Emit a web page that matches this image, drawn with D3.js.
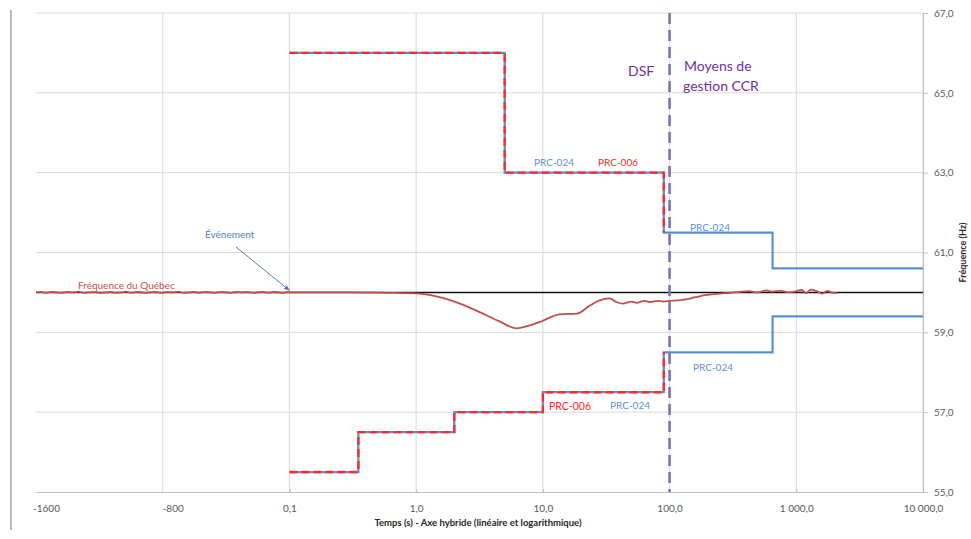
<!DOCTYPE html>
<html>
<head>
<meta charset="utf-8">
<script src="https://cdn.jsdelivr.net/npm/d3@7"></script>
<style>
    body { margin: 0; background: #fff; }
    svg { font-family: Lato, "Open Sans", sans-serif; }
</style>
</head>
<body>
<div id="chart"></div>
<script>
// x ticks: two linear ticks (negative seconds) then a log part
var linTicks = [-1600, -800];
var linTickLabels = ["-1600", "-800"];
var logTicks = [0.1, 1, 10, 100, 1000, 10000];
var logTickLabels = ["0,1", "1,0", "10,0", "100,0", "1\u00a0000,0", "10\u00a0000,0"];
var freqTicks = [55, 57, 59, 61, 63, 65, 67];
var freqTickLabels = ["55,0", "57,0", "59,0", "61,0", "63,0", "65,0", "67,0"];

// Fréquence du Québec (time in s, frequency in Hz)
var quebecTime = [-1600, -1570, -1540, -1500, -1470, -1440, -1400, -1370, -1330, -1300,
    -1270, -1230, -1200, -1160, -1130, -1100, -1060, -1030, -1000, -960,
    -930, -900, -860, -830, -800, -770, -740, -700, -670, -640,
    -600, -570, -530, -500, -470, -430, -400, -370, -330, -300,
    -270, -230, -200, -170, -130, -100, -70, -40, -10, 0,
    0.15, 0.3, 0.6, 1.07, 1.3, 1.75, 2.3, 3.2, 4.5, 6.2,
    8, 10, 13.5, 18.6, 23.5, 28, 33.6, 38, 42.5, 50,
    55, 63, 70, 80, 90, 100, 115, 130, 160, 190,
    250, 300, 350, 420, 500, 580, 650, 750, 880, 1000,
    1100, 1200, 1300, 1450, 1600, 1750, 1900, 2090];
var quebecFreq = [60.00, 60.01, 59.99, 60.01, 60.00, 59.99, 60.01, 60.00, 60.02, 59.99,
    60.00, 60.01, 59.99, 60.00, 60.01, 59.99, 60.00, 60.02, 59.99, 60.01,
    60.00, 59.99, 60.01, 60.00, 59.99, 60.01, 60.00, 60.02, 59.99, 60.00,
    60.01, 59.99, 60.01, 60.00, 59.99, 60.01, 60.00, 59.99, 60.01, 60.00,
    60.01, 59.99, 60.00, 60.01, 59.99, 60.01, 60.00, 59.99, 60.01, 60.00,
    60.00, 60.00, 59.99, 59.97, 59.93, 59.83, 59.70, 59.50, 59.28, 59.10,
    59.18, 59.29, 59.45, 59.47, 59.67, 59.80, 59.85, 59.76, 59.72, 59.77,
    59.74, 59.79, 59.76, 59.79, 59.77, 59.79, 59.80, 59.82, 59.88, 59.93,
    59.97, 59.99, 60.01, 60.03, 60.00, 60.05, 60.02, 60.04, 60.00, 60.03,
    60.06, 59.98, 60.07, 60.03, 59.97, 60.04, 60.00, 59.98];

// step limits
var prc006UpperTime = [0.1, 5, 90];
var prc006UpperFreq = [66, 63, 61.5];
var prc024UpperTime = [0.1, 5, 90, 650, 10000];
var prc024UpperFreq = [66, 63, 61.5, 60.6, 60.6];
var prc006LowerTime = [0.1, 0.35, 2, 10, 90];
var prc006LowerFreq = [55.5, 56.5, 57, 57.5, 58.5];
var prc024LowerTime = [0.1, 0.35, 2, 10, 90, 650, 10000];
var prc024LowerFreq = [55.5, 56.5, 57, 57.5, 58.5, 59.4, 59.4];

var nominalTime = [-1600, 10000];
var nominalFreq = [60, 60];
var limitTime = 100;

var margin = { top: 13, right: 48, bottom: 47, left: 36 },
    width = 971,
    height = 539;
var x0 = margin.left, x1 = width - margin.right;
var unit = (x1 - x0) / 7;

var svg = d3.select("#chart").append("svg")
    .attr("width", width)
    .attr("height", height);

var xLin = d3.scaleLinear().domain([-1600, 0]).range([x0, x0 + 2 * unit]);
var xLog = d3.scaleLog().domain([0.1, 10000]).range([x0 + 2 * unit, x1]);
var x = (t) => (t < 0.1 ? xLin(t) : xLog(t));
var y = d3.scaleLinear().domain([55, 67]).range([height - margin.bottom, margin.top]);

var zip = (ts, fs) => ts.map((t, i) => [t, fs[i]]);

// left frame line
svg.append("line")
    .attr("x1", 11).attr("x2", 11)
    .attr("y1", 10).attr("y2", 530)
    .attr("stroke", "#8c8c8c").attr("stroke-width", 1.2);

// grid
var grid = svg.append("g");
grid.selectAll(".hgrid")
    .data(freqTicks.slice(1))
    .enter().append("line")
    .attr("x1", x0).attr("x2", x1)
    .attr("y1", (d) => y(d)).attr("y2", (d) => y(d))
    .attr("stroke", "#d9d9d9");
grid.selectAll(".vgrid")
    .data([xLin(-800)].concat(logTicks.map((d) => xLog(d))))
    .enter().append("line")
    .attr("x1", (d) => d).attr("x2", (d) => d)
    .attr("y1", y(67)).attr("y2", y(55))
    .attr("stroke", "#d9d9d9");

// axes
function styleAxis(g) {
    g.select(".domain").attr("stroke", "#bfbfbf");
    g.selectAll(".tick line").attr("stroke", "#bfbfbf");
    g.selectAll(".tick text")
        .attr("fill", "#595959")
        .style("font-family", "Lato, 'Open Sans', sans-serif")
        .style("font-size", "10px");
}
svg.append("g")
    .attr("transform", "translate(0," + y(55) + ")")
    .call(d3.axisBottom(xLin).tickValues(linTicks).tickSizeOuter(0).tickSize(0).tickPadding(13)
        .tickFormat((d, i) => linTickLabels[i]))
    .call(styleAxis)
    .call((g) => g.selectAll(".tick text").attr("dx", 10));
svg.append("g")
    .attr("transform", "translate(0," + y(55) + ")")
    .call(d3.axisBottom(xLog).tickValues(logTicks).tickSizeOuter(0).tickSize(-3).tickPadding(13)
        .tickFormat((d, i) => logTickLabels[i]))
    .call(styleAxis);
svg.append("g")
    .attr("transform", "translate(" + x1 + ",0)")
    .call(d3.axisRight(y).tickValues(freqTicks).tickSizeOuter(0).tickSize(5).tickPadding(6)
        .tickFormat((d, i) => freqTickLabels[i]))
    .call(styleAxis);

svg.append("text")
    .attr("x", 478).attr("y", 526)
    .attr("text-anchor", "middle")
    .style("font-size", "9.5px").style("font-weight", "bold")
    .attr("fill", "#262626")
    .text("Temps (s) - Axe hybride (linéaire et logarithmique)");
svg.append("text")
    .attr("transform", "translate(966," + y(61) + ") rotate(-90)")
    .attr("text-anchor", "middle")
    .style("font-size", "9px").style("font-weight", "bold")
    .attr("fill", "#262626")
    .text("Fréquence (Hz)");

var step = d3.line().curve(d3.curveStepAfter).x((d) => x(d[0])).y((d) => y(d[1]));
var smooth = d3.line().curve(d3.curveMonotoneX).x((d) => x(d[0])).y((d) => y(d[1]));

// PRC-024 (blue solid) under PRC-006 (red dashed)
[zip(prc024UpperTime, prc024UpperFreq), zip(prc024LowerTime, prc024LowerFreq)].forEach((s) => {
    svg.append("path").attr("d", step(s))
        .attr("fill", "none").attr("stroke", "#5b8fd4").attr("stroke-width", 2.2);
});
[zip(prc006UpperTime, prc006UpperFreq), zip(prc006LowerTime, prc006LowerFreq)].forEach((s) => {
    svg.append("path").attr("d", step(s))
        .attr("fill", "none").attr("stroke", "#ff2a2a").attr("stroke-width", 2.4)
        .attr("stroke-dasharray", "8,4");
});

// nominal 60 Hz
svg.append("path")
    .attr("d", d3.line().x((d) => x(d[0])).y((d) => y(d[1]))(zip(nominalTime, nominalFreq)))
    .attr("stroke", "#111").attr("stroke-width", 1.5).attr("fill", "none");

// Québec frequency
svg.append("path")
    .attr("d", smooth(zip(quebecTime, quebecFreq)))
    .attr("fill", "none").attr("stroke", "#c0504d").attr("stroke-width", 1.8);

// DSF / CCR boundary
svg.append("line")
    .attr("x1", x(limitTime)).attr("x2", x(limitTime))
    .attr("y1", y(67)).attr("y2", y(55))
    .attr("stroke", "#8070b0").attr("stroke-width", 2.6)
    .attr("stroke-dasharray", "11,6");

// annotations
function label(px, py, txt, color, size, anchor) {
    svg.append("text")
        .attr("x", px).attr("y", py)
        .attr("dy", "0.35em")
        .attr("text-anchor", anchor || "start")
        .style("font-size", size + "px")
        .attr("fill", color)
        .text(txt);
}
label(628, 71, "DSF", "#7030a0", 14);
label(684, 66, "Moyens de", "#7030a0", 14);
label(683, 86, "gestion CCR", "#7030a0", 14);
label(534, 162, "PRC-024", "#5b8fd4", 10);
label(598, 162, "PRC-006", "#ff2a2a", 10);
label(690, 227, "PRC-024", "#5b8fd4", 10);
label(693, 367, "PRC-024", "#5b8fd4", 10);
label(549, 406, "PRC-006", "#ff2a2a", 10.5);
label(610, 405, "PRC-024", "#5b8fd4", 10);
label(205, 234, "Événement", "#4f81bd", 10);
label(78, 285, "Fréquence du Québec", "#c0504d", 10);

svg.append("defs").append("marker")
    .attr("id", "arrow")
    .attr("viewBox", "0 0 10 10")
    .attr("refX", 9).attr("refY", 5)
    .attr("markerWidth", 6).attr("markerHeight", 6)
    .attr("orient", "auto")
    .append("path").attr("d", "M0,1L10,5L0,9Z").attr("fill", "#4f81bd");
svg.append("line")
    .attr("x1", 236).attr("y1", 247)
    .attr("x2", x(0.1)).attr("y2", y(60) - 2)
    .attr("stroke", "#4f81bd").attr("stroke-width", 1)
    .attr("marker-end", "url(#arrow)");
</script>
</body>
</html>
